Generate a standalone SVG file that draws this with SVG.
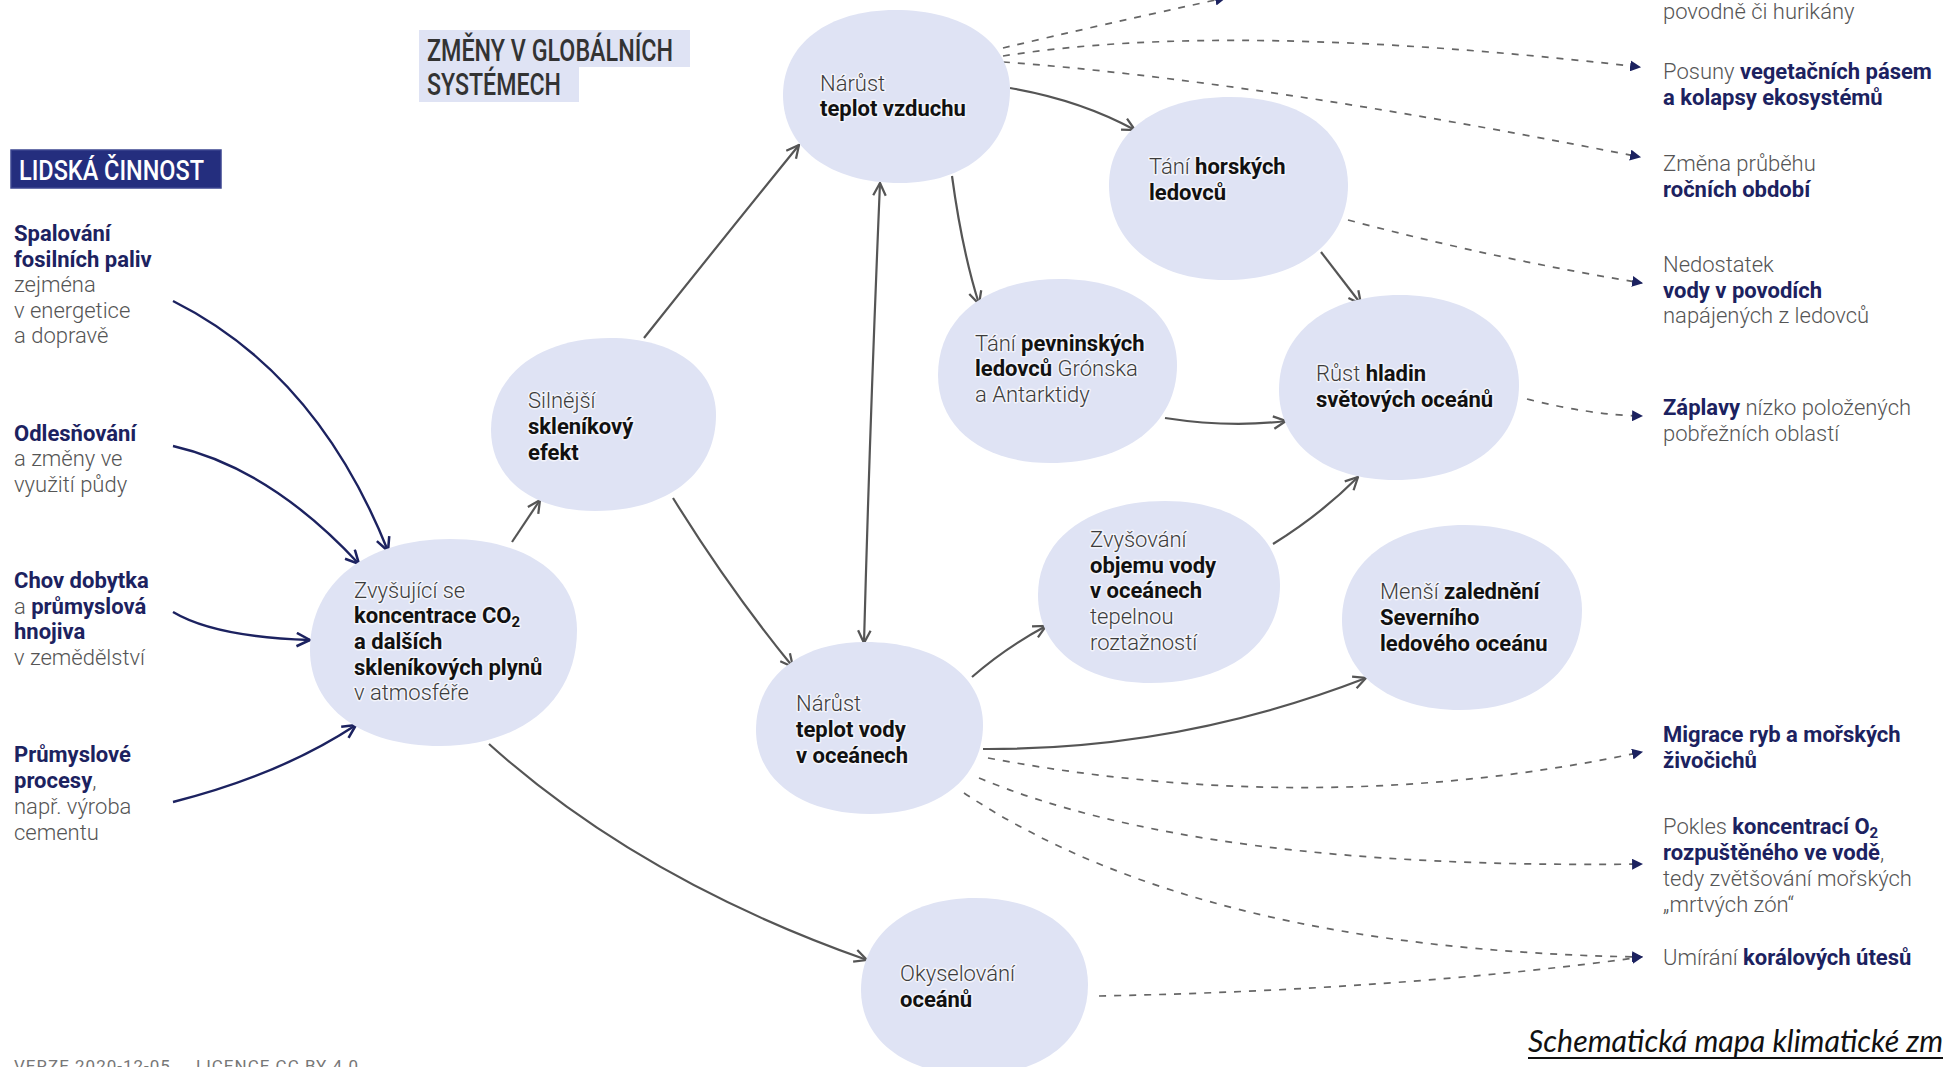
<svg xmlns="http://www.w3.org/2000/svg" width="1943" height="1067" viewBox="0 0 1943 1067">
  <defs>
    <style>
      .t { font-family: Roboto, "Liberation Sans", sans-serif; font-size: 22px; }
      .head { font-family: Roboto, "Liberation Sans", sans-serif; font-weight: 500; }
      .g { fill: #555; font-weight: 300; }
      .nb { fill: #1c2260; font-weight: 700; }
      .br { fill: #3c3c3c; font-weight: 300; }
      .bb { fill: #111; font-weight: 700; }
      .halo { paint-order: stroke; stroke: #fff; stroke-width: 3px; stroke-linejoin: round; stroke-opacity: 0.6; }
      .blob { fill: #dfe3f4; }
      .link { fill: none; stroke: #555; stroke-width: 2.2; marker-end: url(#open); }
      .cause { fill: none; stroke: #1c2260; stroke-width: 2.4; marker-end: url(#openNavy); }
      .effect { fill: none; stroke: #666; stroke-width: 1.7; stroke-dasharray: 7 8; marker-end: url(#tri); }
      .foot { font-family: Roboto, "Liberation Sans", sans-serif; font-size: 17px; fill: #777; letter-spacing: 1px; }
    </style>
    <marker id="open" viewBox="0 0 12 12" refX="11" refY="6" markerWidth="15" markerHeight="15" markerUnits="userSpaceOnUse" orient="auto-start-reverse">
      <path d="M1,1 L11,6 L1,11" fill="none" stroke="#555" stroke-width="1.8"/>
    </marker>
    <marker id="openNavy" viewBox="0 0 12 12" refX="11" refY="6" markerWidth="16" markerHeight="16" markerUnits="userSpaceOnUse" orient="auto">
      <path d="M1,1 L11,6 L1,11" fill="none" stroke="#1c2260" stroke-width="1.9"/>
    </marker>
    <marker id="tri" viewBox="0 0 10 10" refX="9" refY="5" markerWidth="11" markerHeight="11" markerUnits="userSpaceOnUse" orient="auto">
      <path d="M0,0 L10,5 L0,10 Z" fill="#1c2260"/>
    </marker>
  </defs>

  <rect width="1943" height="1067" fill="#fff"/>

  <!-- section headings -->
  <g id="heading-global">
    <rect x="419" y="30" width="271" height="37" fill="#dfe3f4"/>
    <rect x="419" y="67" width="160" height="35" fill="#dfe3f4"/>
    <text class="head" x="427" y="61" font-size="31" fill="#333" textLength="246" lengthAdjust="spacingAndGlyphs">ZMĚNY V GLOBÁLNÍCH</text>
    <text class="head" x="427" y="95" font-size="31" fill="#333" textLength="134" lengthAdjust="spacingAndGlyphs">SYSTÉMECH</text>
  </g>
  <g id="heading-human">
    <rect x="11" y="150" width="210" height="38" fill="#242e7e" stroke="#3b4590" stroke-width="1.5"/>
    <text class="head" x="19" y="180" font-size="28" fill="#fff" textLength="185" lengthAdjust="spacingAndGlyphs">LIDSKÁ ČINNOST</text>
  </g>

  <!-- human causes -->
  <g id="cause-fossil" class="t">
    <text class="nb"><tspan x="14" y="241">Spalování</tspan><tspan x="14" y="267">fosilních paliv</tspan></text>
    <text class="g"><tspan x="14" y="292">zejména</tspan><tspan x="14" y="318">v energetice</tspan><tspan x="14" y="343">a dopravě</tspan></text>
  </g>
  <g id="cause-deforestation" class="t">
    <text class="nb" x="14" y="441">Odlesňování</text>
    <text class="g"><tspan x="14" y="466">a změny ve</tspan><tspan x="14" y="492">využití půdy</tspan></text>
  </g>
  <g id="cause-livestock" class="t">
    <text x="14" y="588" class="nb">Chov dobytka</text>
    <text x="14" y="614"><tspan class="g">a </tspan><tspan class="nb">průmyslová</tspan></text>
    <text x="14" y="639" class="nb">hnojiva</text>
    <text x="14" y="665" class="g">v zemědělství</text>
  </g>
  <g id="cause-industry" class="t">
    <text class="nb"><tspan x="14" y="762">Průmyslové</tspan><tspan x="14" y="788">procesy</tspan><tspan class="g">,</tspan></text>
    <text class="g"><tspan x="14" y="814">např. výroba</tspan><tspan x="14" y="840">cementu</tspan></text>
  </g>

  <!-- connectors -->
  <g id="connectors">
    <path class="cause" d="M173,301 Q317,373 388,551"/>
    <path class="cause" d="M173,446 Q270,468 359,564"/>
    <path class="cause" d="M173,612 Q215,637 310,640"/>
    <path class="cause" d="M173,802 Q280,775 356,725"/>

    <path class="link" d="M512,542 L540,500"/>
    <path class="link" d="M644,338 Q718,245 799,145"/>
    <path class="link" d="M673,498 Q730,590 793,667"/>
    <path class="link" d="M880,183 Q870,420 864,643" marker-start="url(#open)"/>
    <path class="link" d="M1010,88 Q1080,100 1135,130"/>
    <path class="link" d="M952,176 Q962,250 979,304"/>
    <path class="link" d="M1321,252 L1361,304"/>
    <path class="link" d="M1165,418 Q1230,428 1286,421"/>
    <path class="link" d="M1273,544 Q1320,515 1358,477"/>
    <path class="link" d="M972,677 Q1005,648 1046,626"/>
    <path class="link" d="M983,749 Q1180,750 1366,678"/>
    <path class="link" d="M489,744 Q640,880 867,960"/>

    <path class="effect" d="M1003,48 Q1100,25 1225,-2" marker-end="none"/>
    <path class="effect" d="M1003,56 Q1230,20 1640,67"/>
    <path class="effect" d="M1003,62 Q1250,80 1640,157"/>
    <path class="effect" d="M1348,220 Q1500,260 1642,283"/>
    <path class="effect" d="M1527,399 Q1590,415 1642,416"/>
    <path class="effect" d="M988,758 Q1320,820 1642,752"/>
    <path class="effect" d="M979,778 Q1200,870 1642,864"/>
    <path class="effect" d="M964,793 Q1200,950 1642,957"/>
    <path class="effect" d="M1099,996 Q1400,990 1642,957"/>
  </g>

  <!-- system nodes -->
  <g id="node-co2">
    <path class="blob" d="M450,539 C526,539 577,575 577,630 C577,700 522,746 440,746 C362,746 310,708 310,650 C310,583 366,539 450,539 Z"/>
    <g class="t halo">
      <text x="354" y="598" class="br">Zvyšující se</text>
      <text x="354" y="623" class="bb">koncentrace CO<tspan font-size="15" dy="4">2</tspan></text>
      <text x="354" y="649" class="bb">a dalších</text>
      <text x="354" y="675" class="bb">skleníkových plynů</text>
      <text x="354" y="700" class="br">v atmosféře</text>
    </g>
  </g>
  <g id="node-greenhouse">
    <path class="blob" d="M610,338 C674,338 716,369 716,415 C716,473 668,511 595,511 C533,511 491,479 491,430 C491,375 539,338 610,338 Z"/>
    <g class="t halo">
      <text x="528" y="408" class="br">Silnější</text>
      <text x="528" y="434" class="bb">skleníkový</text>
      <text x="528" y="460" class="bb">efekt</text>
    </g>
  </g>
  <g id="node-air">
    <path class="blob" d="M895,10 C964,10 1010,42 1010,90 C1010,146 966,183 900,183 C830,183 783,148 783,95 C783,44 828,10 895,10 Z"/>
    <g class="t halo">
      <text x="820" y="91" class="br">Nárůst</text>
      <text x="820" y="116" class="bb">teplot vzduchu</text>
    </g>
  </g>
  <g id="node-mountain-glaciers">
    <path class="blob" d="M1230,97 C1301,97 1348,132 1348,185 C1348,242 1299,280 1225,280 C1155,280 1109,242 1109,185 C1109,132 1157,97 1230,97 Z"/>
    <g class="t halo">
      <text x="1149" y="174"><tspan class="br">Tání </tspan><tspan class="bb">horských</tspan></text>
      <text x="1149" y="200" class="bb">ledovců</text>
    </g>
  </g>
  <g id="node-ice-sheets">
    <path class="blob" d="M1060,279 C1130,279 1177,313 1177,365 C1177,424 1126,463 1050,463 C983,463 938,428 938,375 C938,317 987,279 1060,279 Z"/>
    <g class="t halo">
      <text x="975" y="351"><tspan class="br">Tání </tspan><tspan class="bb">pevninských</tspan></text>
      <text x="975" y="376"><tspan class="bb">ledovců</tspan><tspan class="br"> Grónska</tspan></text>
      <text x="975" y="402" class="br">a Antarktidy</text>
    </g>
  </g>
  <g id="node-sea-level">
    <path class="blob" d="M1400,295 C1471,295 1519,331 1519,385 C1519,442 1469,480 1395,480 C1325,480 1279,444 1279,390 C1279,333 1327,295 1400,295 Z"/>
    <g class="t halo">
      <text x="1316" y="381"><tspan class="br">Růst </tspan><tspan class="bb">hladin</tspan></text>
      <text x="1316" y="407" class="bb">světových oceánů</text>
    </g>
  </g>
  <g id="node-thermal-expansion">
    <path class="blob" d="M1165,501 C1234,501 1280,535 1280,585 C1280,644 1228,683 1150,683 C1083,683 1038,648 1038,595 C1038,539 1089,501 1165,501 Z"/>
    <g class="t halo">
      <text x="1090" y="547" class="br">Zvyšování</text>
      <text x="1090" y="573" class="bb">objemu vody</text>
      <text x="1090" y="598" class="bb">v oceánech</text>
      <text x="1090" y="624" class="br">tepelnou</text>
      <text x="1090" y="650" class="br">roztažností</text>
    </g>
  </g>
  <g id="node-arctic-ice">
    <path class="blob" d="M1465,525 C1535,525 1582,559 1582,610 C1582,670 1533,710 1460,710 C1389,710 1342,674 1342,620 C1342,563 1391,525 1465,525 Z"/>
    <g class="t halo">
      <text x="1380" y="599"><tspan class="br">Menší </tspan><tspan class="bb">zalednění</tspan></text>
      <text x="1380" y="625" class="bb">Severního</text>
      <text x="1380" y="651" class="bb">ledového oceánu</text>
    </g>
  </g>
  <g id="node-ocean-heat">
    <path class="blob" d="M865,642 C936,642 983,675 983,725 C983,778 938,814 870,814 C802,814 756,780 756,730 C756,677 800,642 865,642 Z"/>
    <g class="t halo">
      <text x="796" y="711" class="br">Nárůst</text>
      <text x="796" y="737" class="bb">teplot vody</text>
      <text x="796" y="763" class="bb">v oceánech</text>
    </g>
  </g>
  <g id="node-acidification">
    <path class="blob" d="M975,898 C1043,898 1088,933 1088,985 C1088,1039 1043,1075 975,1075 C907,1075 861,1041 861,990 C861,935 907,898 975,898 Z"/>
    <g class="t halo">
      <text x="900" y="981" class="br">Okyselování</text>
      <text x="900" y="1007" class="bb">oceánů</text>
    </g>
  </g>

  <!-- impacts -->
  <g id="impact-extremes" class="t">
    <text x="1663" y="19" class="g">povodně či hurikány</text>
  </g>
  <g id="impact-vegetation" class="t">
    <text x="1663" y="79"><tspan class="g">Posuny </tspan><tspan class="nb">vegetačních pásem</tspan></text>
    <text x="1663" y="105" class="nb">a kolapsy ekosystémů</text>
  </g>
  <g id="impact-seasons" class="t">
    <text x="1663" y="171" class="g">Změna průběhu</text>
    <text x="1663" y="197" class="nb">ročních období</text>
  </g>
  <g id="impact-water" class="t">
    <text x="1663" y="272" class="g">Nedostatek</text>
    <text x="1663" y="298" class="nb">vody v povodích</text>
    <text x="1663" y="323" class="g">napájených z ledovců</text>
  </g>
  <g id="impact-floods" class="t">
    <text x="1663" y="415"><tspan class="nb">Záplavy</tspan><tspan class="g"> nízko položených</tspan></text>
    <text x="1663" y="441" class="g">pobřežních oblastí</text>
  </g>
  <g id="impact-migration" class="t">
    <text x="1663" y="742" class="nb">Migrace ryb a mořských</text>
    <text x="1663" y="768" class="nb">živočichů</text>
  </g>
  <g id="impact-oxygen" class="t">
    <text x="1663" y="834"><tspan class="g">Pokles </tspan><tspan class="nb">koncentrací O<tspan font-size="15" dy="4">2</tspan></tspan></text>
    <text x="1663" y="860"><tspan class="nb">rozpuštěného ve vodě</tspan><tspan class="g">,</tspan></text>
    <text x="1663" y="886" class="g">tedy zvětšování mořských</text>
    <text x="1663" y="912" class="g">„mrtvých zón“</text>
  </g>
  <g id="impact-reefs" class="t">
    <text x="1663" y="965"><tspan class="g">Umírání </tspan><tspan class="nb">korálových útesů</tspan></text>
  </g>

  <!-- footer -->
  <g id="footer">
    <text class="foot" x="14" y="1072">VERZE 2020-12-05</text>
    <text class="foot" x="196" y="1072">LICENCE CC BY 4.0</text>
  </g>
  <g id="caption">
    <text x="1528" y="1052" font-family="Lato, 'Open Sans', sans-serif" font-style="italic" font-size="30" fill="#111" textLength="415" lengthAdjust="spacingAndGlyphs">Schematická mapa klimatické zm</text>
    <line x1="1528" y1="1058" x2="1943" y2="1058" stroke="#111" stroke-width="2"/>
  </g>
</svg>
